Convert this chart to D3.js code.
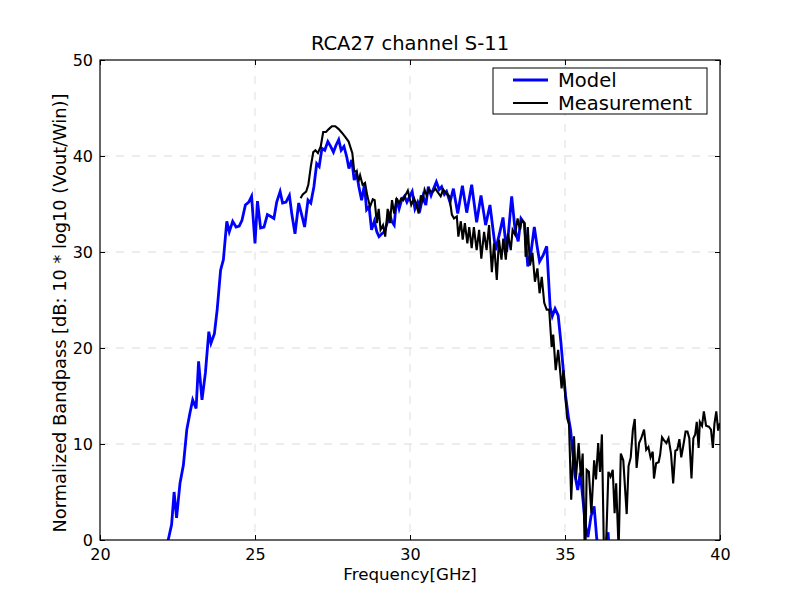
<!DOCTYPE html>
<html>
<head>
<meta charset="utf-8">
<script src="https://cdn.jsdelivr.net/npm/d3@7"></script>
<style>
  body { margin: 0; background: #fff; }
  text { font-family: "DejaVu Sans", sans-serif; }
</style>
</head>
<body>
<div id="chart"></div>
<script>
// data
const modelFreq = [22.15, 22.20, 22.31, 22.39, 22.47, 22.58, 22.69, 22.80, 22.90, 22.99,
  23.10, 23.18, 23.29, 23.40, 23.51, 23.58, 23.69, 23.78, 23.89, 23.98,
  24.09, 24.17, 24.28, 24.39, 24.49, 24.58, 24.69, 24.80, 24.89, 25.00,
  25.08, 25.18, 25.29, 25.40, 25.51, 25.61, 25.70, 25.81, 25.89, 26.00,
  26.11, 26.19, 26.29, 26.41, 26.52, 26.60, 26.71, 26.80, 26.90, 26.99,
  27.07, 27.16, 27.25, 27.35, 27.44, 27.53, 27.61, 27.70, 27.78, 27.87,
  27.96, 28.03, 28.12, 28.20, 28.28, 28.35, 28.44, 28.53, 28.60, 28.68,
  28.76, 28.85, 28.93, 29.00, 29.09, 29.17, 29.26, 29.35, 29.41, 29.49,
  29.57, 29.65, 29.73, 29.82, 29.90, 29.99, 30.07, 30.16, 30.25, 30.33,
  30.42, 30.51, 30.59, 30.68, 30.76, 30.85, 30.94, 31.02, 31.11, 31.18,
  31.29, 31.40, 31.54, 31.69, 31.83, 31.99, 32.15, 32.29, 32.44, 32.58,
  32.76, 32.90, 33.00, 33.12, 33.28, 33.39, 33.49, 33.58, 33.69, 33.80,
  33.90, 34.01, 34.10, 34.18, 34.30, 34.41, 34.52, 34.59, 34.68, 34.78,
  34.87, 34.95, 35.02, 35.11, 35.18, 35.26, 35.33, 35.41, 35.49, 35.57,
  35.66, 35.74, 35.84, 35.94, 36.02, 36.10, 36.19, 36.29, 36.39, 36.48];
const modelDb = [-1, 0, 1.6, 5.0, 2.3, 5.9, 7.8, 11.5, 13.2, 14.6,
  13.7, 18.6, 14.6, 17.4, 21.7, 20.5, 21.5, 24.0, 28.1, 29.2,
  33.2, 32.1, 33.2, 32.6, 32.7, 33.3, 34.9, 35.2, 35.8, 30.9,
  35.3, 32.5, 32.6, 33.9, 33.7, 33.5, 35.2, 36.3, 35.1, 35.2,
  35.9, 33.9, 31.9, 35.1, 33.7, 32.6, 35.4, 35.1, 36.8, 39.2,
  38.9, 40.8, 40.6, 41.5, 41.0, 40.4, 41.1, 41.7, 40.6, 41.0,
  39.9, 38.7, 39.6, 37.5, 38.2, 36.8, 35.4, 37.0, 34.4, 34.7,
  32.3, 33.2, 32.1, 31.6, 31.9, 32.1, 33.0, 33.9, 33.2, 32.8,
  35.6, 34.5, 35.4, 35.8, 35.2, 35.8, 36.3, 34.5, 35.2, 34.5,
  35.8, 34.9, 36.8, 35.9, 36.6, 37.3, 36.5, 36.8, 36.0, 36.3,
  35.2, 36.6, 34.0, 36.9, 34.1, 37.0, 33.1, 35.9, 32.8, 34.9,
  30.2, 32.1, 33.6, 30.0, 35.8, 32.3, 31.1, 33.5, 33.0, 28.5,
  29.9, 32.6, 30.6, 29.0, 29.7, 30.6, 24.3, 23.3, 24.1, 23.4,
  20.5, 17.5, 15.0, 12.8, 11.5, 8.8, 6.6, 5.2, 7.0, 4.5,
  1.5, 0.3, 2.5, 3.5, 0.3, -2, -4, -1, 0.8, -4];

const measFreq = [26.47, 26.54, 26.65, 26.72, 26.80, 26.88, 26.95, 27.03, 27.12, 27.20,
  27.29, 27.38, 27.48, 27.59, 27.70, 27.81, 27.91, 28.02, 28.14, 28.20,
  28.28, 28.33, 28.39, 28.47, 28.55, 28.62, 28.71, 28.80, 28.86, 28.93,
  28.99, 29.05, 29.13, 29.20, 29.28, 29.35, 29.42, 29.49, 29.57, 29.65,
  29.72, 29.78, 29.85, 29.93, 29.98, 30.04, 30.13, 30.19, 30.28, 30.35,
  30.41, 30.47, 30.54, 30.60, 30.67, 30.75, 30.82, 30.90, 30.99, 31.07,
  31.18, 31.27, 31.35, 31.42, 31.51, 31.56, 31.64, 31.70, 31.77, 31.85,
  31.91, 31.99, 32.06, 32.15, 32.23, 32.30, 32.39, 32.47, 32.55, 32.64,
  32.71, 32.80, 32.87, 32.95, 33.01, 33.09, 33.16, 33.25, 33.31, 33.39,
  33.47, 33.55, 33.60, 33.69, 33.73, 33.80, 33.87, 33.95, 34.03, 34.11,
  34.18, 34.25, 34.33, 34.41, 34.49, 34.57, 34.62, 34.70, 34.78, 34.84,
  34.89, 34.95, 35.02, 35.07, 35.13, 35.20, 35.29, 35.35, 35.44, 35.51,
  35.57, 35.65, 35.70, 35.77, 35.85, 35.94, 36.00, 36.07, 36.13, 36.19,
  36.26, 36.32, 36.40, 36.47, 36.54, 36.60, 36.65, 36.73, 36.80, 36.88,
  36.99, 37.05, 37.12, 37.19, 37.25, 37.31, 37.39, 37.46, 37.55, 37.62,
  37.69, 37.76, 37.83, 37.87, 37.94, 38.02, 38.07, 38.13, 38.19, 38.27,
  38.34, 38.42, 38.49, 38.56, 38.62, 38.69, 38.75, 38.82, 38.89, 38.95,
  39.01, 39.08, 39.14, 39.20, 39.25, 39.31, 39.35, 39.42, 39.48, 39.55,
  39.64, 39.71, 39.77, 39.82, 39.88, 39.94, 40.00];
const measDb = [35.6, 36.0, 36.3, 37.0, 38.9, 40.4, 40.6, 40.3, 41.0, 42.5,
  42.5, 42.8, 43.1, 43.1, 42.8, 42.4, 42.0, 41.5, 40.3, 38.4,
  38.4, 37.3, 38.0, 37.0, 37.2, 35.9, 34.7, 35.5, 35.4, 33.0,
  34.5, 32.3, 32.8, 31.6, 34.5, 33.0, 35.4, 34.0, 35.5, 35.1,
  35.6, 35.4, 35.9, 36.4, 35.7, 34.9, 35.6, 35.1, 34.0, 35.9,
  35.4, 36.5, 35.9, 36.5, 36.3, 36.3, 36.6, 36.2, 35.8, 36.5,
  36.1, 35.8, 33.9, 33.5, 33.7, 31.6, 33.2, 31.3, 33.0, 30.9,
  32.6, 30.4, 32.6, 30.2, 32.3, 29.3, 32.1, 30.2, 32.8, 27.9,
  30.9, 27.1, 31.3, 29.2, 31.4, 29.2, 31.9, 30.2, 32.3, 31.8,
  33.5, 32.3, 33.3, 33.0, 29.5, 32.6, 28.6, 29.9, 26.9, 28.3,
  25.7, 27.4, 24.7, 24.0, 24.0, 20.1, 21.4, 17.7, 19.8, 17.7,
  15.8, 17.7, 14.6, 12.7, 12.0, 4.2, 10.8, 6.3, 10.1, 6.6,
  9.0, -3, 7.3, 7.1, 2.8, 8.3, 6.3, 10.1, 7.1, 11.0,
  -2, -1, 7.1, 6.6, 7.3, 2.8, 5.9, -1, 9.0, 8.3,
  2.7, 7.7, 8.6, 11.5, 12.6, 7.5, 10.1, 10.6, 11.5, 9.4,
  9.7, 8.6, 9.2, 6.4, 8.0, 8.1, 8.9, 10.7, 10.4, 10.1,
  10.6, 9.0, 5.9, 9.3, 9.4, 10.5, 8.6, 9.9, 11.3, 11.3,
  10.6, 6.4, 10.6, 11.0, 12.3, 9.6, 12.3, 11.9, 13.4, 11.9,
  11.8, 11.5, 9.6, 12.1, 13.4, 11.4, 12.2];

const xTicks = [20, 25, 30, 35, 40];
const yTicks = [0, 10, 20, 30, 40, 50];
const seriesNames = ["Model", "Measurement"];
const seriesColors = ["#0000ff", "#000000"];
const seriesWidths = [2.8, 2.1];

const margin = { top: 60, right: 80, bottom: 60, left: 100 };
const W = 800, H = 600;
const width = W - margin.left - margin.right;
const height = H - margin.top - margin.bottom;

const svg = d3.select("#chart").append("svg")
  .attr("width", W).attr("height", H)
  .style("display", "block");

const g = svg.append("g")
  .attr("transform", `translate(${margin.left},${margin.top})`);

const xScale = d3.scaleLinear().domain([20, 40]).range([0, width]);
const yScale = d3.scaleLinear().domain([0, 50]).range([height, 0]);

g.append("defs").append("clipPath").attr("id", "clip")
  .append("rect").attr("width", width).attr("height", height);

// grid
const grid = g.append("g").attr("class", "grid");
grid.selectAll("line.gx").data(xTicks.slice(1, -1)).enter().append("line")
  .attr("x1", d => xScale(d)).attr("x2", d => xScale(d))
  .attr("y1", 0).attr("y2", height);
grid.selectAll("line.gy").data(yTicks.slice(1, -1)).enter().append("line")
  .attr("y1", d => yScale(d)).attr("y2", d => yScale(d))
  .attr("x1", 0).attr("x2", width);
grid.selectAll("line")
  .attr("stroke", "#e6e6e6").attr("stroke-width", 1.3)
  .attr("stroke-dasharray", "8,8");

// lines
const line = d3.line().x(d => xScale(d[0])).y(d => yScale(d[1]));
const series = [
  d3.zip(modelFreq, modelDb),
  d3.zip(measFreq, measDb)
];
const lines = g.append("g").attr("clip-path", "url(#clip)");
series.forEach((s, i) => {
  lines.append("path")
    .datum(s)
    .attr("fill", "none")
    .attr("stroke", seriesColors[i])
    .attr("stroke-width", seriesWidths[i])
    .attr("stroke-linejoin", "miter")
    .attr("d", line);
});

// axes, ticks inward like matplotlib classic
const xAxis = d3.axisBottom(xScale).tickValues(xTicks).tickSize(-5).tickPadding(9);
const yAxis = d3.axisLeft(yScale).tickValues(yTicks).tickSize(-5).tickPadding(7);

const xg = g.append("g").attr("transform", `translate(0,${height})`).call(xAxis);
const yg = g.append("g").call(yAxis);
g.append("g").call(d3.axisTop(xScale).tickValues(xTicks).tickSize(-5).tickFormat(""));
g.append("g").attr("transform", `translate(${width},0)`)
  .call(d3.axisRight(yScale).tickValues(yTicks).tickSize(-5).tickFormat(""));

g.selectAll(".domain").remove();
g.selectAll(".tick line").attr("stroke", "#000").attr("stroke-width", 1);
g.selectAll(".tick text")
  .attr("font-family", "DejaVu Sans").attr("font-size", 16).attr("fill", "#000");

g.append("rect")
  .attr("width", width).attr("height", height)
  .attr("fill", "none").attr("stroke", "#000").attr("stroke-width", 1.2);

// labels
svg.append("text")
  .attr("x", margin.left + width / 2).attr("y", 50)
  .attr("text-anchor", "middle").attr("font-size", 19.5)
  .text("RCA27 channel S-11");

svg.append("text")
  .attr("x", margin.left + width / 2).attr("y", 580)
  .attr("text-anchor", "middle").attr("font-size", 16.7)
  .text("Frequency[GHz]");

svg.append("text")
  .attr("transform", "translate(66,313) rotate(-90)")
  .attr("text-anchor", "middle").attr("font-size", 17.8)
  .text("Normalized Bandpass [dB: 10 * log10 (Vout/Win)]");

// legend
const legend = g.append("g").attr("transform", "translate(393,8)");
legend.append("rect")
  .attr("width", 214).attr("height", 46)
  .attr("fill", "#fff").attr("stroke", "#000").attr("stroke-width", 1);
seriesNames.forEach((name, i) => {
  const row = legend.append("g").attr("transform", `translate(0,${12 + i * 23})`);
  row.append("line")
    .attr("x1", 20).attr("x2", 55)
    .attr("stroke", seriesColors[i]).attr("stroke-width", seriesWidths[i]);
  row.append("text")
    .attr("x", 65).attr("y", 7).attr("font-size", 19.5)
    .text(name);
});
</script>
</body>
</html>
